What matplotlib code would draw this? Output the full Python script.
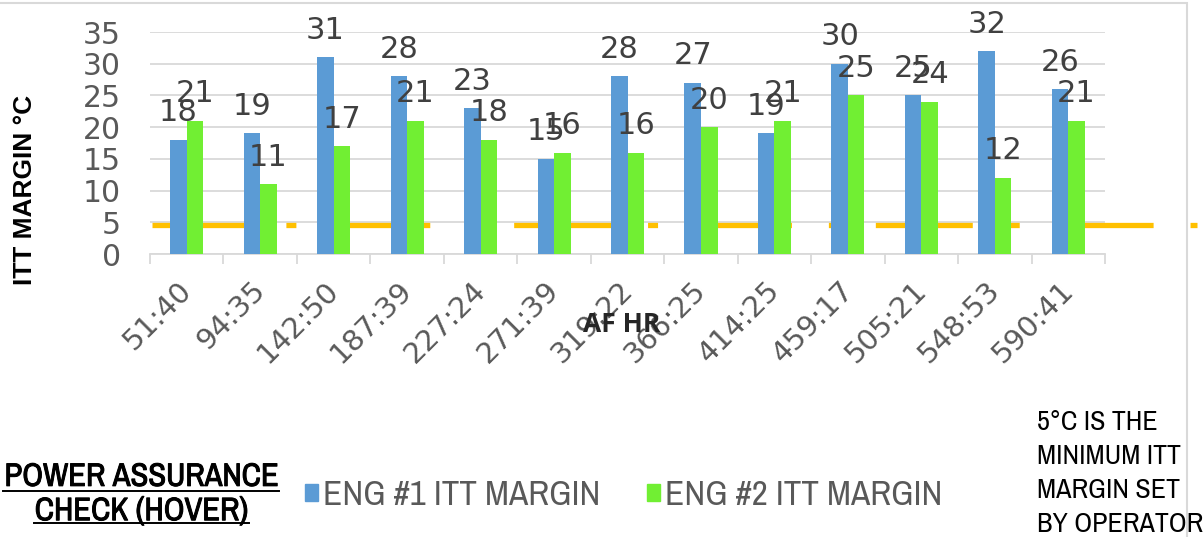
import numpy as np
import matplotlib
matplotlib.use('Agg')
import matplotlib.pyplot as plt
import matplotlib.patches as mpatches
import matplotlib.transforms as mtransforms
import matplotlib.patheffects as pe
from matplotlib.lines import Line2D
from matplotlib.text import Text
from matplotlib import font_manager

# ── Données ────────────────────────────────────────────────────────────────
af_hr = ['51:40', '94:35', '142:50', '187:39', '227:24', '271:39', '319:22',
         '366:25', '414:25', '459:17', '505:21', '548:53', '590:41']
eng1_margin = [18, 19, 31, 28, 23, 15, 28, 27, 19, 30, 25, 32, 26]
eng2_margin = [21, 11, 17, 21, 18, 16, 16, 20, 21, 25, 24, 12, 21]
min_margin = 4.6          # ligne opérateur (5 °C)
y_ticks = [0, 5, 10, 15, 20, 25, 30, 35]

BLUE = '#5B9BD5'
GREEN = '#71EF33'
ORANGE = '#FFC000'
GRID = '#D9D9D9'
TICK = '#595959'
LABEL = '#404040'

plt.rcParams['lines.scale_dashes'] = False

# police étroite : première famille "Narrow"/"Condensed" trouvée
narrow = {}
for f in font_manager.fontManager.ttflist:
    if 'Narrow' in f.name or 'Condensed' in f.name:
        wt = f.weight if isinstance(f.weight, int) else (700 if 'bold' in str(f.weight) else 400)
        narrow.setdefault(f.name, set()).add(wt)
NARROW_NAME = next(iter(narrow)) if narrow else 'Liberation Sans'
BOLD_OK = (not narrow) or max(narrow[NARROW_NAME]) >= 600
NARROW = [NARROW_NAME, 'DejaVu Sans']

fig = plt.figure(figsize=(12.04, 5.37), dpi=100)
ax = fig.add_axes([0.1246, 0.527, 0.7932, 0.4134])
rend = fig.canvas.get_renderer()


def fit_size(txt, target_px, weight='normal', base=20):
    t = Text(0, 0, txt, fontsize=base, fontweight=weight, family=NARROW)
    t.set_figure(fig)
    return base * target_px / t.get_window_extent(rend).width


x = np.arange(len(af_hr))
w = 0.225
b1 = ax.bar(x - w / 2, eng1_margin, w, color=BLUE, zorder=3)
b2 = ax.bar(x + w / 2, eng2_margin, w, color=GREEN, zorder=3)

for bars in (b1, b2):
    ax.bar_label(bars, padding=9, fontsize=22, color=LABEL)

# ligne minimum opérateur (déborde à droite du graphique)
trans = mtransforms.blended_transform_factory(ax.transAxes, ax.transData)
ln = Line2D([0.002, 1.096], [min_margin, min_margin], transform=trans,
            color=ORANGE, linewidth=3.8, dash_capstyle='butt', zorder=2,
            clip_on=False, linestyle=(0, (69.8, 26.6, 7.2, 26.6)))
ax.add_line(ln)

ax.set_xlim(-0.5, len(af_hr) - 0.5)
ax.set_ylim(0, 35)
ax.set_yticks(y_ticks)
ax.tick_params(axis='y', length=0, labelsize=21.5, labelcolor=TICK, pad=21)
ax.grid(axis='y', color=GRID, linewidth=1.3, zorder=0)
ax.set_axisbelow(True)

ax.set_xticks(x)
ax.set_xticklabels(af_hr, rotation=45, ha='right', va='top',
                   rotation_mode='anchor', fontsize=21, color=TICK)
ax.tick_params(axis='x', which='major', length=0, pad=16)
shift = mtransforms.ScaledTranslation(-0.09, 0, fig.dpi_scale_trans)
for lab in ax.get_xticklabels():
    lab.set_transform(lab.get_transform() + shift)
ax.set_xticks(np.arange(-0.5, len(af_hr)), minor=True)
ax.tick_params(axis='x', which='minor', length=7.5, width=1.3, color=GRID)

for s in ['top', 'right', 'left']:
    ax.spines[s].set_visible(False)
ax.spines['bottom'].set_color(GRID)
ax.spines['bottom'].set_linewidth(1.3)

ax.set_xlabel('AF HR', fontsize=19, fontweight='bold', color='#262626',
              family=['Open Sans', 'DejaVu Sans'])
ax.xaxis.set_label_coords(0.494, -0.255)
fig.text(0.021, 0.646, 'ITT MARGIN °C', rotation=90, ha='center', va='center',
         fontsize=19, fontweight='bold', color='black',
         family=['Liberation Sans', 'DejaVu Sans'])

# légende
leg_size = fit_size('ENG #1 ITT MARGIN', 278)
em = leg_size * fig.dpi / 72
handles = [mpatches.Patch(color=BLUE, label='ENG #1 ITT MARGIN'),
           mpatches.Patch(color=GREEN, label='ENG #2 ITT MARGIN')]
fig.legend(handles=handles, loc='center', bbox_to_anchor=(0.518, 0.078),
           ncol=2, frameon=False, handlelength=13 / em, handleheight=13 / em,
           handletextpad=5 / em, columnspacing=46 / em, borderpad=0,
           prop={'family': NARROW, 'size': leg_size}, labelcolor=TICK)

# titre souligné en bas à gauche (gras simulé si la police n'a pas de bold)
bold_fx = [] if BOLD_OK else [pe.withStroke(linewidth=0.7, foreground='black')]
title_size = fit_size('POWER ASSURANCE', 275, weight='bold')
title = fig.text(0.1175, 0.080, 'POWER ASSURANCE\nCHECK (HOVER)', ha='center',
                 va='center', fontsize=title_size, fontweight='bold',
                 color='black', family=NARROW, linespacing=1.18,
                 path_effects=bold_fx)
note_size = fit_size('BY OPERATOR', 166)
fig.text(0.861, 0.118, '5°C IS THE\nMINIMUM ITT\nMARGIN SET\nBY OPERATOR',
         ha='left', va='center', fontsize=note_size, color='black',
         family=NARROW, linespacing=1.45)

# cadre du graphique (haut et droite visibles)
fig.add_artist(mpatches.Rectangle((-0.02, -0.05), 1.0059, 1.0453,
                                  transform=fig.transFigure, fill=False,
                                  edgecolor=GRID, linewidth=1.5))

# soulignement du titre
fig.canvas.draw()
lines = title.get_text().split('\n')
bb = title.get_window_extent(rend)
lh = bb.height / len(lines)
for i, txt in enumerate(lines):
    tmp = Text(0, 0, txt, fontsize=title_size, fontweight='bold', family=NARROW)
    tmp.set_figure(fig)
    tw = tmp.get_window_extent(rend).width + 2
    cx = (bb.x0 + bb.x1) / 2
    yb = bb.y1 - (i + 1) * lh + 3
    fig.add_artist(Line2D([(cx - tw / 2) / fig.bbox.width, (cx + tw / 2) / fig.bbox.width],
                          [yb / fig.bbox.height] * 2, transform=fig.transFigure,
                          color='black', linewidth=1.4))

fig.savefig('out.png', dpi=100)
